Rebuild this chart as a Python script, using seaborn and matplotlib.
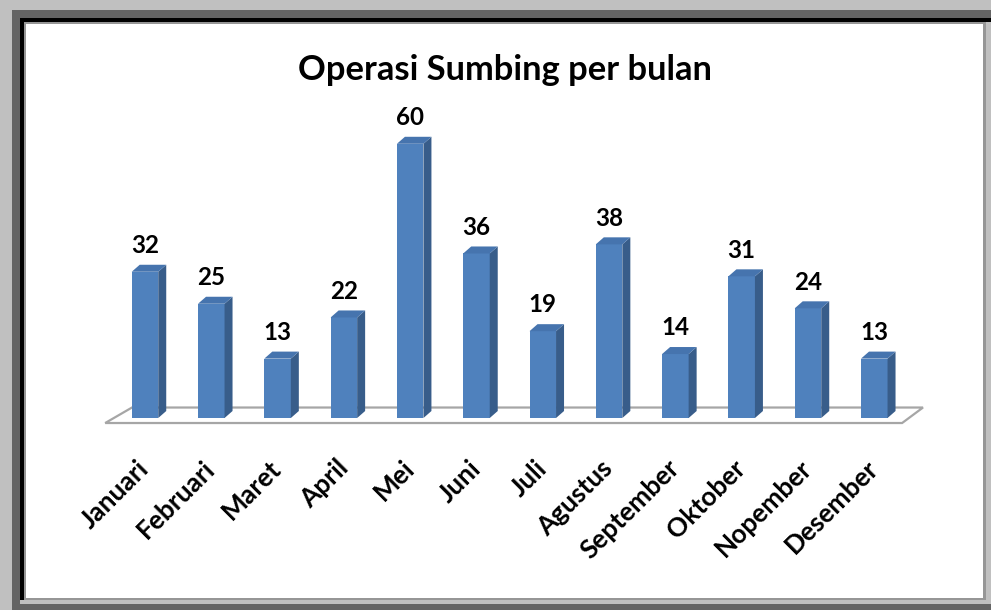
import matplotlib
matplotlib.use("Agg")
import matplotlib.pyplot as plt
import seaborn as sns
import pandas as pd
from matplotlib.patches import Rectangle, Polygon

# ---- data ----
months = ["Januari", "Februari", "Maret", "April", "Mei", "Juni", "Juli",
          "Agustus", "September", "Oktober", "Nopember", "Desember"]
values = [32, 25, 13, 22, 60, 36, 19, 38, 14, 31, 24, 13]
title = "Operasi Sumbing per bulan"

W, H = 991, 610
FRONT = "#4F81BD"
SIDE = "#385D8A"
TOP = "#4674AE"

sns.set_theme(style="white")
plt.rcParams["font.family"] = ["Lato", "DejaVu Sans"]

fig = plt.figure(figsize=(W / 100, H / 100), dpi=100)
fig.patch.set_facecolor("#C0C0C0")


def rect(x0, y0, x1, y1, color):
    fig.patches.append(Rectangle((x0 / W, 1 - y1 / H), (x1 - x0) / W, (y1 - y0) / H,
                                 transform=fig.transFigure, facecolor=color,
                                 edgecolor="none", zorder=-10))


# window-like frame
rect(12, 10, 991, 610, "#646464")
rect(20, 18, 991, 604, "#C0C0C0")
rect(20, 18, 991, 22, "#000000")
rect(20, 18, 24, 600, "#000000")
rect(24, 22, 986, 600, "#969696")
rect(26, 24, 983, 598, "#FFFFFF")

renderer = fig.canvas.get_renderer()


def fit_size(text, target_px, weight="bold"):
    t = fig.text(0, 0, text, fontsize=20, fontweight=weight)
    w = t.get_window_extent(renderer).width
    t.remove()
    return 20 * target_px / w


fs_title = fit_size(title, 415)
fs_lab = fit_size("September", 128)
fs_val = fit_size("60", 28)

# ---- axes ----
ax = fig.add_axes([80 / W, 1 - 440 / H, 880 / W, 340 / H])
ax.set_facecolor("none")
df = pd.DataFrame({"bulan": months, "jumlah": values})
sns.barplot(data=df, x="bulan", y="jumlah", order=months, color=FRONT,
            saturation=1, width=0.4, ax=ax, zorder=3, linewidth=0)
ax.set_xlim(-0.980, 12.293)
ax.set_ylim(-4.81, 69.58)
sns.despine(ax=ax, left=True, bottom=True)
ax.set_yticks([])
ax.set_xlabel("")
ax.set_ylabel("")
ax.set_xticks(range(len(months)))
ax.set_xticklabels(months, rotation=45, ha="right", va="center",
                   rotation_mode="anchor", fontweight="bold", color="black",
                   fontsize=fs_lab)
ax.tick_params(axis="x", length=0, pad=17.5)

# depth of the 3D effect (pixels -> data)
p0 = ax.transData.transform((0, 0))
p1 = ax.transData.transform((1, 1))
px_x = p1[0] - p0[0]
px_y = p1[1] - p0[1]
dx = 8 / px_x
dy = 7 / px_y

bars = list(ax.patches)
for bar, v in zip(bars, values):
    x0 = bar.get_x()
    w = bar.get_width()
    h = bar.get_height()
    x1 = x0 + w
    ax.add_patch(Polygon([(x1, 0), (x1 + dx, dy), (x1 + dx, h + dy), (x1, h)],
                         closed=True, facecolor=SIDE, edgecolor="none", zorder=3))
    ax.add_patch(Polygon([(x0, h), (x1, h), (x1 + dx, h + dy), (x0 + dx, h + dy)],
                         closed=True, facecolor=TOP, edgecolor="none", zorder=3))
    ax.annotate(f"{v}", (x0 + w / 2, h), xytext=(0, 13.5), textcoords="offset points",
                ha="center", va="baseline", fontweight="bold", fontsize=fs_val,
                color="black")

# floor
yf = -5 / px_y
yb = 10.5 / px_y
ax.add_patch(Polygon([(-0.60, yf), (11.42, yf), (11.735, yb), (-0.196, yb)],
                     closed=True, facecolor="white", edgecolor="#A6A6A6",
                     linewidth=1.6, zorder=2))

fig.text(504.5 / W, 1 - 80 / H, title, ha="center", va="baseline",
         fontweight="bold", fontsize=fs_title, color="black")

fig.savefig("out.png", dpi=100)
